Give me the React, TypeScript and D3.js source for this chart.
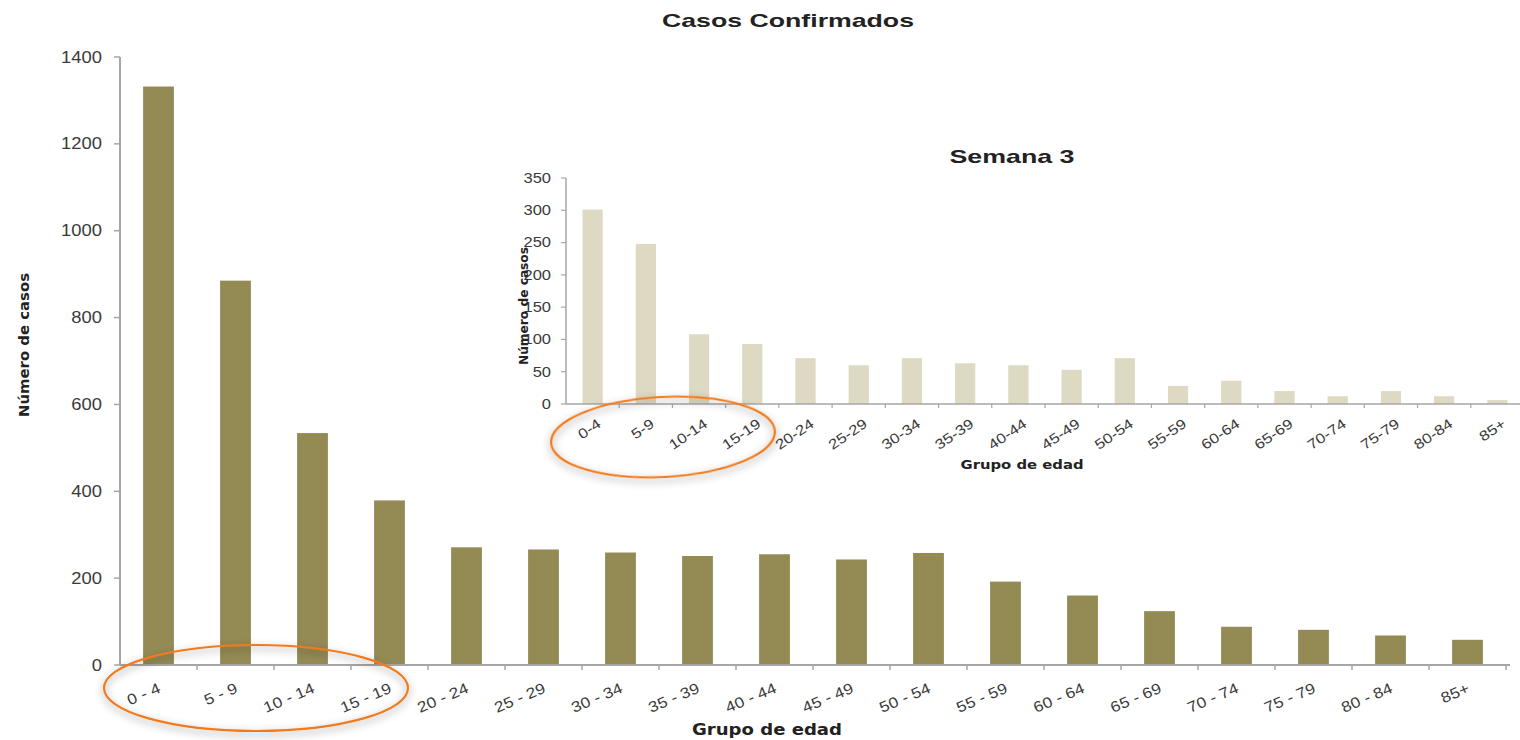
import React, { useEffect, useRef } from 'react';
import * as d3 from 'd3';

const mainGroups = ['0 - 4', '5 - 9', '10 - 14', '15 - 19', '20 - 24', '25 - 29', '30 - 34', '35 - 39', '40 - 44', '45 - 49', '50 - 54', '55 - 59', '60 - 64', '65 - 69', '70 - 74', '75 - 79', '80 - 84', '85+'];
const mainCases = [1332, 885, 534, 379, 271, 266, 259, 251, 255, 243, 258, 192, 160, 124, 88, 81, 68, 58];
const mainTicks = [0, 200, 400, 600, 800, 1000, 1200, 1400];

const weekGroups = ['0-4', '5-9', '10-14', '15-19', '20-24', '25-29', '30-34', '35-39', '40-44', '45-49', '50-54', '55-59', '60-64', '65-69', '70-74', '75-79', '80-84', '85+'];
const weekCases = [301, 248, 108, 93, 71, 60, 71, 63, 60, 53, 71, 28, 36, 20, 12, 20, 12, 6];
const weekTicks = [0, 50, 100, 150, 200, 250, 300, 350];

const FONT = 'Liberation Sans, Arial, sans-serif';
const TEXT = '#3a3a3a';
const AXIS = '#a6a6a6';

const CasosChart: React.FC = () => {
  const svgRef = useRef<SVGSVGElement>(null);

  useEffect(() => {
    if (!svgRef.current) return;
    const svg = d3.select(svgRef.current);
    svg.selectAll('*').remove();

    const defs = svg.append('defs');
    const f = defs.append('filter').attr('id', 'shadow').attr('x', '-20%').attr('y', '-30%').attr('width', '140%').attr('height', '160%');
    f.append('feGaussianBlur').attr('in', 'SourceAlpha').attr('stdDeviation', 4).attr('result', 'blur');
    f.append('feOffset').attr('in', 'blur').attr('dx', 0).attr('dy', 3).attr('result', 'off');
    f.append('feComponentTransfer').attr('in', 'off').attr('result', 'soft')
      .append('feFuncA').attr('type', 'linear').attr('slope', 0.45);
    const merge = f.append('feMerge');
    merge.append('feMergeNode').attr('in', 'soft');
    merge.append('feMergeNode').attr('in', 'SourceGraphic');

    // ---------- main chart ----------
    const x = d3.scaleBand<string>().domain(mainGroups).range([120, 1506]).paddingInner(0.6).paddingOuter(0.3);
    const y = d3.scaleLinear().domain([0, 1400]).range([665, 57]);
    const step = x.step();
    const x0 = 120;

    const main = svg.append('g');
    main.selectAll('rect.bar')
      .data(mainCases)
      .enter()
      .append('rect')
      .attr('x', (_, i) => x(mainGroups[i])!)
      .attr('y', d => y(d))
      .attr('width', x.bandwidth())
      .attr('height', d => y(0) - y(d))
      .attr('fill', '#948a54');

    main.append('line').attr('x1', x0).attr('x2', x0).attr('y1', y(1400)).attr('y2', y(0))
      .attr('stroke', AXIS).attr('stroke-width', 2);
    main.append('line').attr('x1', x0).attr('x2', x0 + step * mainGroups.length + 4).attr('y1', y(0)).attr('y2', y(0))
      .attr('stroke', AXIS).attr('stroke-width', 2);

    mainTicks.forEach(t => {
      main.append('line').attr('x1', x0 - 6).attr('x2', x0).attr('y1', y(t)).attr('y2', y(t)).attr('stroke', AXIS).attr('stroke-width', 1.5);
      main.append('text').attr('transform', `translate(102, ${y(t)}) scale(1.15, 1)`).attr('dy', '0.35em').attr('text-anchor', 'end')
        .style('font-family', FONT).style('font-size', '16px').style('fill', TEXT).text(t);
    });
    mainGroups.forEach((_, i) => {
      const tx = x0 + step * (i + 1);
      main.append('line').attr('x1', tx).attr('x2', tx).attr('y1', y(0)).attr('y2', y(0) + 5).attr('stroke', AXIS).attr('stroke-width', 1.5);
    });
    mainGroups.forEach(g => {
      const cx = x(g)! + x.bandwidth() / 2;
      main.append('text')
        .attr('transform', `translate(${cx + 3}, ${692}) rotate(-23) scale(1.15, 1)`)
        .attr('text-anchor', 'end')
        .style('font-family', FONT).style('font-size', '15px').style('fill', TEXT)
        .text(g);
    });

    svg.append('text').attr('x', 788).attr('y', 27).attr('text-anchor', 'middle')
      .attr('textLength', 252).attr('lengthAdjust', 'spacingAndGlyphs')
      .style('font-family', FONT).style('font-size', '19px').style('font-weight', '700').style('fill', '#222')
      .text('Casos Confirmados');
    svg.append('text').attr('x', 767).attr('y', 735).attr('text-anchor', 'middle')
      .attr('textLength', 150).attr('lengthAdjust', 'spacingAndGlyphs')
      .style('font-family', 'DejaVu Sans, sans-serif').style('font-size', '15px').style('font-weight', '700').style('fill', '#222')
      .text('Grupo de edad');
    svg.append('text').attr('transform', 'translate(29, 345) rotate(-90)').attr('text-anchor', 'middle')
      .attr('textLength', 144).attr('lengthAdjust', 'spacingAndGlyphs')
      .style('font-family', 'DejaVu Sans, sans-serif').style('font-size', '14px').style('font-weight', '700').style('fill', '#222')
      .text('Número de casos');

    // ---------- inset: Semana 3 ----------
    const ix = d3.scaleBand<string>().domain(weekGroups).range([566, 1524]).paddingInner(0.62).paddingOuter(0.31);
    const iy = d3.scaleLinear().domain([0, 350]).range([404, 178]);
    const istep = ix.step();
    const ix0 = 566;

    const inset = svg.append('g');
    inset.selectAll('rect.bar')
      .data(weekCases)
      .enter()
      .append('rect')
      .attr('x', (_, i) => ix(weekGroups[i])!)
      .attr('y', d => iy(d))
      .attr('width', ix.bandwidth())
      .attr('height', d => iy(0) - iy(d))
      .attr('fill', '#ddd9c3');

    inset.append('line').attr('x1', ix0).attr('x2', ix0).attr('y1', iy(350)).attr('y2', iy(0))
      .attr('stroke', AXIS).attr('stroke-width', 1.5);
    inset.append('line').attr('x1', ix0).attr('x2', 1520).attr('y1', iy(0)).attr('y2', iy(0))
      .attr('stroke', AXIS).attr('stroke-width', 1.5);
    weekTicks.forEach(t => {
      inset.append('line').attr('x1', ix0 - 5).attr('x2', ix0).attr('y1', iy(t)).attr('y2', iy(t)).attr('stroke', AXIS).attr('stroke-width', 1.2);
      inset.append('text').attr('transform', `translate(551, ${iy(t)}) scale(1.18, 1)`).attr('dy', '0.35em').attr('text-anchor', 'end')
        .style('font-family', FONT).style('font-size', '14px').style('fill', TEXT).text(t);
    });
    weekGroups.forEach((_, i) => {
      const tx = ix0 + istep * (i + 1);
      inset.append('line').attr('x1', tx).attr('x2', tx).attr('y1', iy(0)).attr('y2', iy(0) + 4).attr('stroke', AXIS).attr('stroke-width', 1.2);
    });
    weekGroups.forEach(g => {
      const cx = ix(g)! + ix.bandwidth() / 2;
      inset.append('text')
        .attr('transform', `translate(${cx + 4}, ${418}) rotate(-34) scale(1.2, 1)`)
        .attr('text-anchor', 'end')
        .attr('dy', '0.7em')
        .style('font-family', FONT).style('font-size', '14px').style('fill', TEXT)
        .text(g);
    });

    svg.append('text').attr('x', 1012).attr('y', 163).attr('text-anchor', 'middle')
      .attr('textLength', 125).attr('lengthAdjust', 'spacingAndGlyphs')
      .style('font-family', FONT).style('font-size', '19px').style('font-weight', '700').style('fill', '#222')
      .text('Semana 3');
    svg.append('text').attr('x', 1022).attr('y', 469).attr('text-anchor', 'middle')
      .attr('textLength', 123).attr('lengthAdjust', 'spacingAndGlyphs')
      .style('font-family', 'DejaVu Sans, sans-serif').style('font-size', '12.5px').style('font-weight', '700').style('fill', '#222')
      .text('Grupo de edad');
    svg.append('text').attr('transform', 'translate(528, 306) rotate(-90)').attr('text-anchor', 'middle')
      .attr('textLength', 118).attr('lengthAdjust', 'spacingAndGlyphs')
      .style('font-family', 'DejaVu Sans, sans-serif').style('font-size', '12px').style('font-weight', '700').style('fill', '#222')
      .text('Número de casos');

    // ---------- highlight ellipses ----------
    svg.append('ellipse').attr('cx', 256).attr('cy', 688).attr('rx', 152).attr('ry', 43)
      .attr('fill', 'none').attr('stroke', '#f07a1e').attr('stroke-width', 2.2).attr('filter', 'url(#shadow)');
    svg.append('ellipse').attr('cx', 663).attr('cy', 437).attr('rx', 112).attr('ry', 40)
      .attr('transform', 'rotate(-3, 663, 437)')
      .attr('fill', 'none').attr('stroke', '#f07a1e').attr('stroke-width', 2.2).attr('filter', 'url(#shadow)');
  }, []);

  return (
    <div style={{ position: 'absolute', left: 0, top: 0, width: 1520, height: 740, background: '#fff' }}>
      <svg ref={svgRef} width={1520} height={740} viewBox="0 0 1520 740" style={{ display: 'block' }} />
    </div>
  );
};

export default function App() {
  return <CasosChart />;
}
